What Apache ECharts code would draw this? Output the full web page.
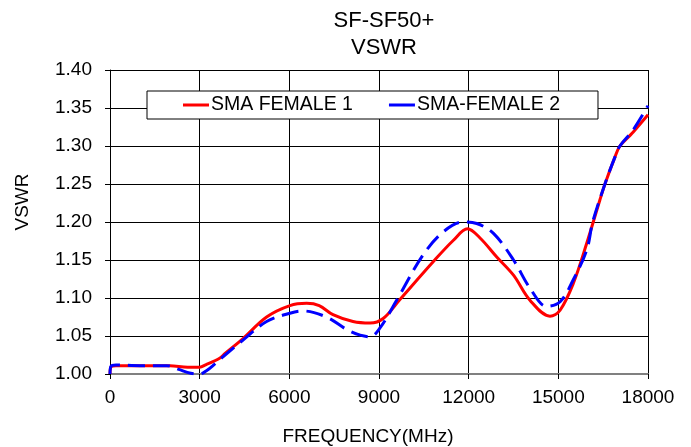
<!DOCTYPE html>
<html>
<head>
<meta charset="utf-8">
<script src="https://cdn.jsdelivr.net/npm/echarts@6/dist/echarts.min.js"></script>
<style>
html,body{margin:0;padding:0;background:#fff;}
#main{width:691px;height:447px;}
</style>
</head>
<body>
<div id="main"></div>
<script>
var seriesNames = ['SMA FEMALE 1', 'SMA-FEMALE 2'];

// SMA FEMALE 1 (red)
var freq1 = [0, 30, 200, 1000, 2000, 2600, 3000, 3200, 3680, 3850, 4460, 5240, 6020, 6580, 7000, 7460, 8130, 8700, 9140, 9700, 10820, 11490, 11960, 12380, 12940, 13500, 14050, 14720, 15060, 15500, 15950, 16390, 16560, 16900, 17060, 17400, 17500, 18000];
var vswr1 = [1.000, 1.009, 1.011, 1.011, 1.011, 1.009, 1.009, 1.012, 1.021, 1.027, 1.047, 1.075, 1.090, 1.093, 1.090, 1.078, 1.069, 1.067, 1.073, 1.098, 1.148, 1.176, 1.191, 1.179, 1.154, 1.130, 1.097, 1.076, 1.084, 1.119, 1.172, 1.229, 1.250, 1.286, 1.300, 1.314, 1.318, 1.341];

// SMA-FEMALE 2 (blue dashed)
var freq2 = [0, 30, 200, 1000, 1900, 2300, 2700, 3000, 3250, 3500, 3790, 4460, 5240, 6020, 6440, 7240, 8040, 8700, 9040, 9590, 10480, 11150, 11820, 12270, 12830, 13500, 14050, 14610, 15060, 15500, 15950, 16150, 16560, 16900, 17060, 17500, 18000];
var vswr2 = [1.000, 1.010, 1.012, 1.011, 1.011, 1.006, 1.001, 1.000, 1.005, 1.013, 1.023, 1.045, 1.069, 1.080, 1.083, 1.075, 1.056, 1.049, 1.061, 1.097, 1.157, 1.187, 1.200, 1.198, 1.185, 1.150, 1.113, 1.089, 1.095, 1.124, 1.163, 1.200, 1.250, 1.286, 1.300, 1.321, 1.353];

function pairs(xs, ys) {
    var out = [];
    for (var i = 0; i < xs.length; i++) {
        out.push([xs[i], ys[i]]);
    }
    return out;
}

var font = 'Liberation Sans, Arial, sans-serif';
var chartDom = document.getElementById('main');
var myChart = echarts.init(chartDom);
var option;

option = {
    animation: false,
    textStyle: { fontFamily: font },
    title: {
        text: 'SF-SF50+\nVSWR',
        left: 384,
        top: 7,
        padding: 0,
        textAlign: 'center',
        textStyle: {
            fontFamily: font,
            fontSize: 22,
            fontWeight: 'normal',
            color: '#000',
            lineHeight: 27
        }
    },
    legend: {
        data: seriesNames,
        left: 147,
        top: 91,
        padding: [4, 38, 4, 36],
        itemGap: 36,
        itemWidth: 26,
        itemHeight: 3,
        icon: 'rect',
        borderColor: '#000',
        borderWidth: 1,
        borderRadius: 0,
        backgroundColor: '#fff',
        textStyle: { fontFamily: font, fontSize: 19.5, color: '#000', padding: [0, 0, 0, -3] }
    },
    grid: {
        left: 110,
        right: 43,
        top: 70,
        bottom: 73,
        outerBoundsMode: 'none'
    },
    xAxis: {
        type: 'value',
        min: 0,
        max: 18000,
        interval: 3000,
        name: 'FREQUENCY(MHz)',
        nameLocation: 'middle',
        nameGap: 53,
        nameTextStyle: { fontFamily: font, fontSize: 19, color: '#000', padding: [0, 22, 0, 0] },
        axisLine: { lineStyle: { color: '#808080', width: 2 } },
        axisTick: { show: true, length: 5, lineStyle: { color: '#000' } },
        axisLabel: {
            fontFamily: font, fontSize: 19, color: '#000', margin: 14,
            formatter: function (v) { return String(v); }
        },
        splitLine: { show: true, lineStyle: { color: '#000', width: 1 } }
    },
    yAxis: {
        type: 'value',
        min: 1.0,
        max: 1.4,
        interval: 0.05,
        name: 'VSWR',
        nameLocation: 'middle',
        nameGap: 78,
        nameTextStyle: { fontFamily: font, fontSize: 19, color: '#000', padding: [0, 0, 0, 40] },
        axisLine: { show: true, lineStyle: { color: '#000', width: 1 } },
        axisTick: { show: true, length: 5, lineStyle: { color: '#000' } },
        axisLabel: {
            fontFamily: font, fontSize: 19, color: '#000', margin: 18,
            formatter: function (v) { return v.toFixed(2); }
        },
        splitLine: { show: true, lineStyle: { color: '#000', width: 1 } }
    },
    series: [
        {
            name: seriesNames[0],
            type: 'line',
            data: pairs(freq1, vswr1),
            showSymbol: false,
            symbol: 'none',
            smooth: 0.35,
            lineStyle: { color: '#ff0000', width: 3 },
            itemStyle: { color: '#ff0000' },
            z: 3
        },
        {
            name: seriesNames[1],
            type: 'line',
            data: pairs(freq2, vswr2),
            showSymbol: false,
            symbol: 'none',
            smooth: 0.35,
            lineStyle: { color: '#0000ff', width: 3, type: [17, 8] },
            itemStyle: { color: '#0000ff' },
            z: 4
        }
    ]
};

option && myChart.setOption(option);
</script>
</body>
</html>
